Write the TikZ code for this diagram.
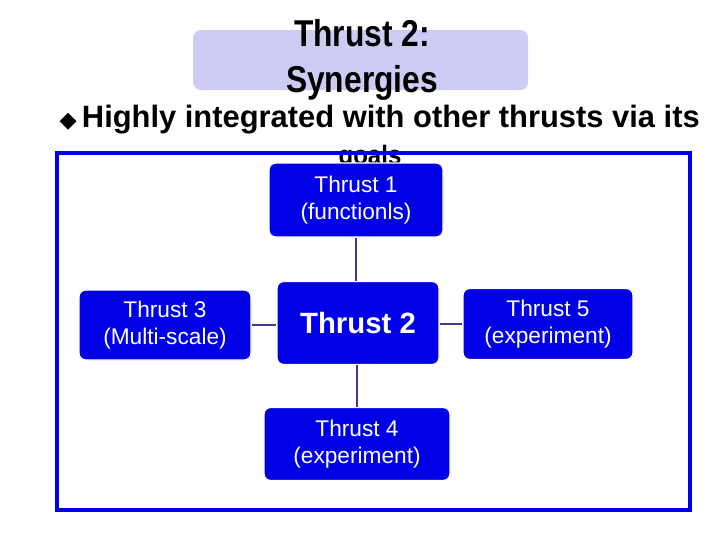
\documentclass[tikz,border=0pt]{standalone}
\usepackage{fontspec}
\setmainfont{Liberation Sans}
\newfontfamily\djv{DejaVu Sans}
\begin{document}
\begin{tikzpicture}[x=0.75pt,y=-0.75pt,
 tbox/.style={draw=white,line width=1pt,fill=tblue,rounded corners=5pt,text=white,align=center,inner sep=0pt,font=\fontsize{17}{20}\selectfont},
 link/.style={draw=linkc,line width=1.5pt}]
\definecolor{tblue}{RGB}{0,0,230}
\definecolor{linkc}{RGB}{60,60,140}
\definecolor{lav}{RGB}{204,204,245}
\useasboundingbox (0,0) rectangle (720,540);
\fill[lav,rounded corners=6pt] (193,30) rectangle (528,90);
\node[font=\bfseries\fontsize{28}{34}\selectfont,align=center,xscale=0.85] (title) at (362,60) {Thrust 2:\\Synergies};
\node[anchor=west,font=\bfseries\fontsize{20}{24}\selectfont] (bul) at (55,120) {\resizebox{640\dimexpr0.75pt\relax}{!}{{\djv\Large ◆}\,Highly integrated with other thrusts via its}};
\node[font=\bfseries\fontsize{20}{24}\selectfont,xscale=0.9] (goals) at (370,158) {goals};
\draw[tblue,line width=3pt] (57,153) rectangle (690,510);
\node[tbox,minimum width=174*0.75pt,minimum height=74*0.75pt] (t1) at (356,200) {Thrust 1\\(functionls)};
\node[tbox,minimum width=172*0.75pt,minimum height=70*0.75pt] (t3) at (165,325) {Thrust 3\\(Multi-scale)};
\node[tbox,minimum width=162*0.75pt,minimum height=83*0.75pt,font=\bfseries\fontsize{22}{26}\selectfont] (t2) at (358,323) {Thrust 2};
\node[tbox,minimum width=170*0.75pt,minimum height=71*0.75pt] (t5) at (548,324) {Thrust 5\\(experiment)};
\node[tbox,minimum width=186*0.75pt,minimum height=73*0.75pt] (t4) at (357,444) {Thrust 4\\(experiment)};
\draw[link] (t1.south) -- (t1.south|-t2.north);
\draw[link] (t4.north) -- (t4.north|-t2.south);
\draw[link] (t3.east) -- (t3.east-|t2.west);
\draw[link] (t2.east|-t5.west) -- (t5.west);
\end{tikzpicture}
\end{document}
